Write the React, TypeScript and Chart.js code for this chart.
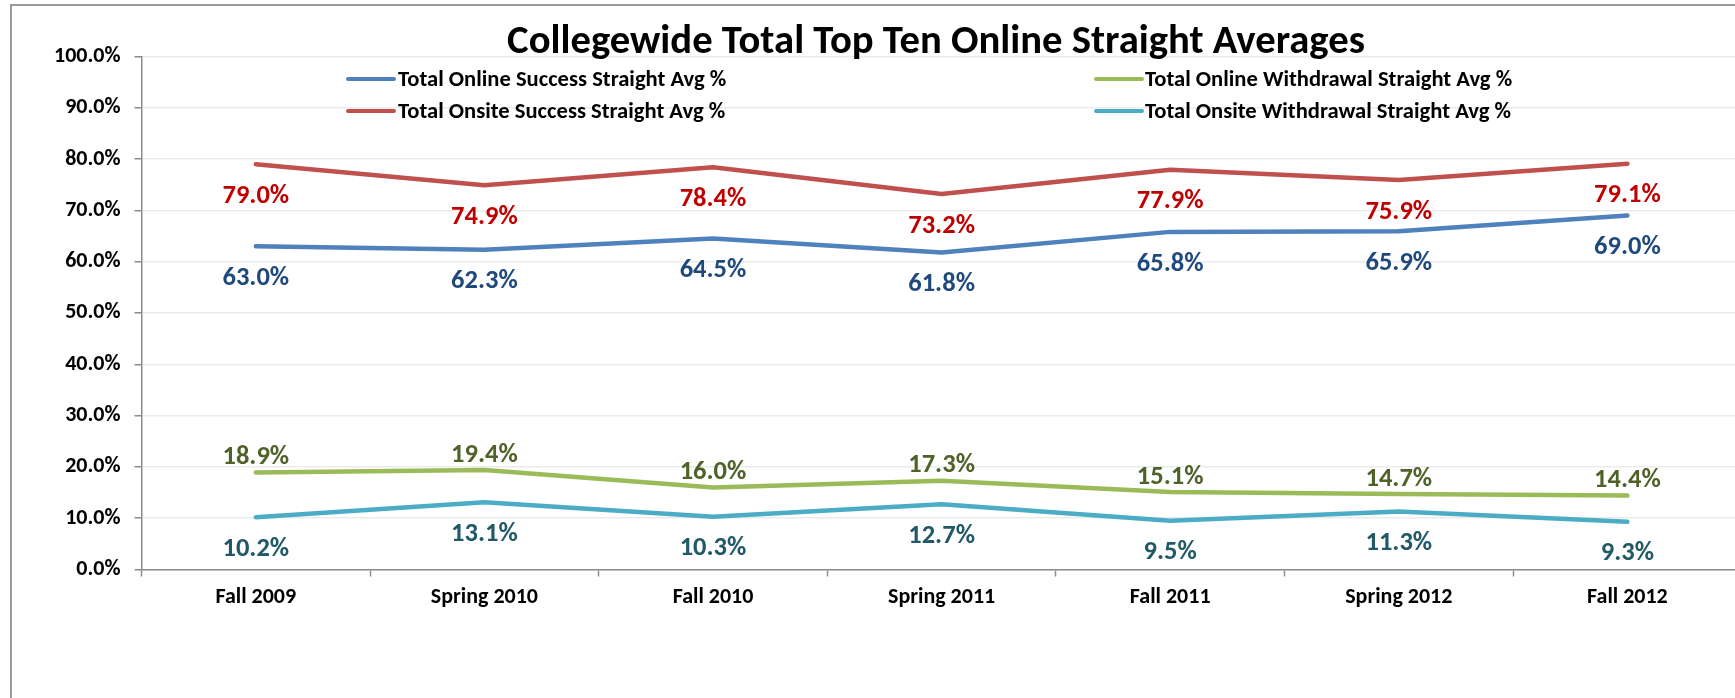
import React, { useEffect, useRef } from "react";
import { Chart, registerables } from "chart.js";

Chart.register(...registerables);

const title = "Collegewide Total Top Ten Online Straight Averages";
const categories = ["Fall 2009", "Spring 2010", "Fall 2010", "Spring 2011", "Fall 2011", "Spring 2012", "Fall 2012"];
const onlineSuccess = [63.0, 62.3, 64.5, 61.8, 65.8, 65.9, 69.0];
const onsiteSuccess = [79.0, 74.9, 78.4, 73.2, 77.9, 75.9, 79.1];
const onlineWithdrawal = [18.9, 19.4, 16.0, 17.3, 15.1, 14.7, 14.4];
const onsiteWithdrawal = [10.2, 13.1, 10.3, 12.7, 9.5, 11.3, 9.3];
const seriesNames = [
  "Total Online Success Straight Avg %",
  "Total Onsite Success Straight Avg %",
  "Total Online Withdrawal Straight Avg %",
  "Total Onsite Withdrawal Straight Avg %",
];
const yTicks = [0, 10, 20, 30, 40, 50, 60, 70, 80, 90, 100];

const FONT = "Carlito, Lato, 'Liberation Sans', sans-serif";
const lineColors = ["#4F81BD", "#C0504D", "#9BBB59", "#4BACC6"];
const labelColors = ["#1F497D", "#C00000", "#4F6228", "#215967"];
const labelOffsets = [32, 32, -15, 32];

const overlayPlugin = {
  id: "overlay",
  afterDatasetsDraw(chart: any) {
    const ctx = chart.ctx;
    ctx.save();
    // data labels
    chart.data.datasets.forEach((ds: any, i: number) => {
      const meta = chart.getDatasetMeta(i);
      ctx.font = `bold 26.5px ${FONT}`;
      ctx.fillStyle = labelColors[i];
      ctx.textAlign = "center";
      ctx.textBaseline = "middle";
      meta.data.forEach((pt: any, j: number) => {
        ctx.fillText(`${Number(ds.data[j]).toFixed(1)}%`, pt.x, pt.y + labelOffsets[i]);
      });
    });
    // title
    ctx.fillStyle = "#000";
    ctx.textAlign = "left";
    ctx.textBaseline = "alphabetic";
    ctx.font = `bold 100px ${FONT}`;
    const w100 = ctx.measureText(title).width;
    const size = (100 * 858) / w100;
    ctx.font = `bold ${size}px ${FONT}`;
    ctx.textAlign = "center";
    ctx.fillText(title, 936, 53);
    // legend
    const colLine = [348, 1096];
    const colText = [398, 1145];
    const rowY = [79, 111];
    chart.data.datasets.forEach((ds: any, i: number) => {
      const c = i >> 1;
      const r = i & 1;
      const y = rowY[r];
      ctx.strokeStyle = ds.borderColor;
      ctx.lineWidth = 4;
      ctx.lineCap = "round";
      ctx.beginPath();
      ctx.moveTo(colLine[c], y);
      ctx.lineTo(colLine[c] + 46, y);
      ctx.stroke();
      ctx.fillStyle = "#000";
      ctx.font = `bold 22.6px ${FONT}`;
      ctx.textAlign = "left";
      ctx.textBaseline = "middle";
      ctx.fillText(ds.label, colText[c], y + 1);
    });
    ctx.restore();
  },
};

export default function App() {
  const ref = useRef<HTMLCanvasElement | null>(null);
  useEffect(() => {
    if (!ref.current) return;
    const seriesData = [onlineSuccess, onsiteSuccess, onlineWithdrawal, onsiteWithdrawal];
    const chart = new Chart(ref.current, {
      type: "line",
      data: {
        labels: categories,
        datasets: seriesData.map((d, i) => ({
          label: seriesNames[i],
          data: d,
          borderColor: lineColors[i],
          backgroundColor: lineColors[i],
          borderWidth: 4.5,
          pointRadius: 0,
          pointHoverRadius: 0,
          tension: 0,
          borderCapStyle: "round",
          borderJoinStyle: "round",
          fill: false,
        })),
      },
      options: {
        responsive: false,
        animation: false,
        events: [],
        layout: { padding: { left: 0, right: 58.3, top: 56.4, bottom: 0 } },
        plugins: {
          legend: { display: false },
          title: { display: false },
          tooltip: { enabled: false },
        },
        scales: {
          x: {
            type: "category",
            offset: true,
            grid: {
              offset: true,
              drawOnChartArea: false,
              drawTicks: true,
              tickLength: 7,
              tickColor: "#8c8c8c",
              tickWidth: 1.5,
            },
            border: { display: true, color: "#8c8c8c", width: 1.5 },
            ticks: {
              color: "#000",
              font: { family: FONT, size: 22, weight: "bold" },
              padding: 8,
              maxRotation: 0,
              autoSkip: false,
            },
            afterFit: (s: any) => {
              s.height = 698 - 569.5;
            },
          },
          y: {
            min: 0,
            max: 100,
            afterBuildTicks: (s: any) => {
              s.ticks = yTicks.map((v) => ({ value: v }));
            },
            grid: {
              color: "#ebebeb",
              lineWidth: 1.5,
              drawTicks: true,
              tickLength: 7,
              tickColor: "#8c8c8c",
              tickWidth: 1.5,
            },
            border: { display: true, color: "#8c8c8c", width: 1.5 },
            ticks: {
              color: "#000",
              font: { family: FONT, size: 22, weight: "bold" },
              padding: 14,
              callback: (v: any) => `${Number(v).toFixed(1)}%`,
            },
            afterFit: (s: any) => {
              s.width = 141.5;
            },
          },
        },
      },
      plugins: [overlayPlugin],
    } as any);
    return () => chart.destroy();
  }, []);

  return (
    <div
      style={{
        position: "fixed",
        left: 0,
        top: 0,
        width: 1735,
        height: 698,
        overflow: "hidden",
        background: "#fff",
      }}
    >
      <div
        style={{
          position: "absolute",
          left: 10,
          top: 4,
          width: 3000,
          height: 3000,
          borderLeft: "2px solid #9a9a9a",
          borderTop: "2px solid #9a9a9a",
        }}
      />
      <canvas
        ref={ref}
        width={1800}
        height={698}
        style={{ position: "absolute", left: 0, top: 0, width: 1800, height: 698 }}
      />
    </div>
  );
}
